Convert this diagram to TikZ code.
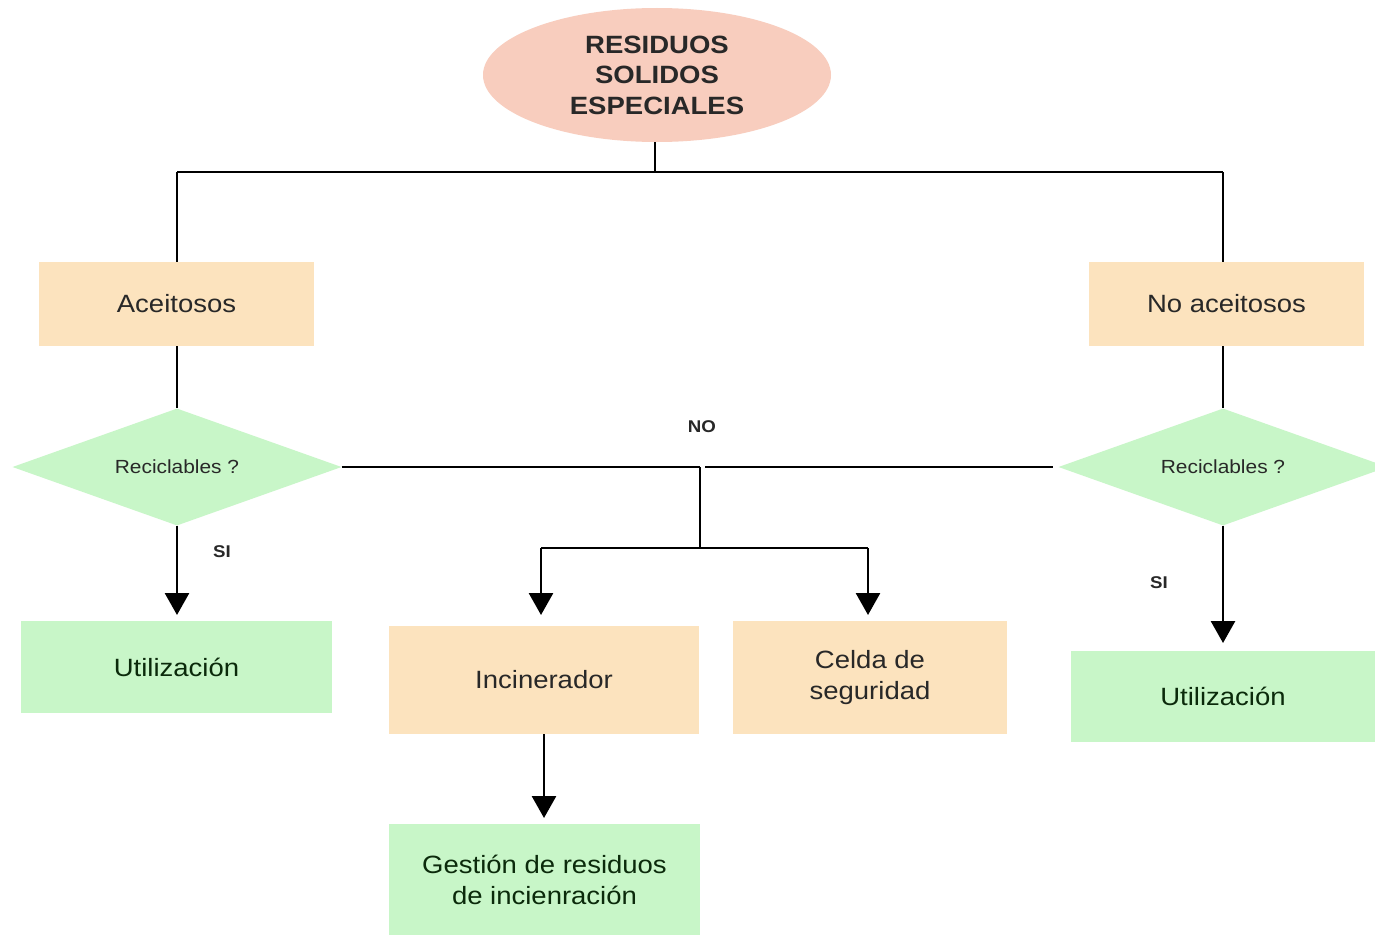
\documentclass[tikz,border=0pt]{standalone}
\usepackage{fontspec}
\setmainfont{Liberation Sans}[FakeStretch=1.1]
\usetikzlibrary{arrows.meta,shapes.geometric}
\definecolor{salmon}{RGB}{248,205,190}
\definecolor{peach}{RGB}{252,227,190}
\definecolor{mint}{RGB}{200,246,200}
\definecolor{txt}{RGB}{40,40,40}
\tikzset{
  conn/.style={line width=2.8pt, draw=black},
  arr/.style={conn, -{Triangle[width=24pt,length=22pt]}},
  peachbox/.style={rectangle, fill=peach, draw=none, text=txt, align=center, font=\fontsize{25}{31}\selectfont},
  greenbox/.style={rectangle, fill=mint, draw=none, text=txt!70!green!40!black, align=center, font=\fontsize{25}{31}\selectfont},
  decision/.style={diamond, fill=mint, draw=none, text=txt, aspect=2.8, inner sep=0pt, minimum width=329pt, minimum height=117pt, font=\fontsize{19}{23}\selectfont},
  lbl/.style={font=\bfseries\fontsize{17}{20}\selectfont, text=txt}
}
\begin{document}
\begin{tikzpicture}[x=1pt,y=-1pt]
\useasboundingbox (0,0) rectangle (1375,934);
\fill[white] (0,0) rectangle (1375,934);

\node[ellipse, fill=salmon, draw=none, minimum width=348pt, minimum height=134pt, inner sep=0pt, align=center, text=txt, font=\bfseries\fontsize{25}{30.5}\selectfont] (root) at (657,75) {RESIDUOS\\SOLIDOS\\ESPECIALES};

\node[peachbox, minimum width=275pt, minimum height=84pt] (ac) at (176.5,304) {Aceitosos};
\node[peachbox, minimum width=275pt, minimum height=84pt] (nac) at (1226.5,304) {No aceitosos};

\node[decision] (d1) at (177,467) {Reciclables ?};
\node[decision] (d2) at (1223,467) {Reciclables ?};

\node[greenbox, minimum width=311pt, minimum height=92pt] (u1) at (176.5,667) {Utilización};
\node[greenbox, minimum width=304pt, minimum height=91pt] (u2) at (1223,696.5) {Utilización};
\node[peachbox, minimum width=310pt, minimum height=108pt] (inc) at (544,680) {Incinerador};
\node[peachbox, minimum width=274pt, minimum height=113pt] (cel) at (870,677.5) {Celda de\\seguridad};
\node[greenbox, minimum width=311pt, minimum height=112pt] (ges) at (544.5,880) {Gestión de residuos\\de incienración};

% coordinates
\coordinate (j0) at (655,172);
\coordinate (jl) at (177,172);
\coordinate (jr) at (1223,172);
\coordinate (m1) at (700,467);
\coordinate (m1b) at (705,467);
\coordinate (m2) at (700,548);
\coordinate (bl) at (541,548);
\coordinate (br) at (868,548);

\draw[conn] (root.south -| j0) -- (j0);
\draw[conn] (jl) -- (jr);
\draw[conn] (jl) -- (ac.north -| jl);
\draw[conn] (jr) -- (nac.north -| jr);
\draw[conn] (ac.south -| d1.north) -- (d1.north);
\draw[conn] (nac.south -| d2.north) -- (d2.north);

\draw[conn] (d1.east) -- (m1);
\draw[conn] (m1b) -- ([xshift=-5pt]d2.west);
\draw[conn] (m1) -- (m2);
\draw[conn] (bl) -- (br);
\draw[arr] (bl) -- (541,615);
\draw[arr] (br) -- (868,615);

\draw[arr] (d1.south) -- (177,615);
\draw[arr] (d2.south) -- (1223,643);
\draw[arr] (inc.south) -- (544,818);

\node[lbl] (no) at (702,427) {NO};
\node[lbl] (si1) at (222,552) {SI};
\node[lbl] (si2) at (1159,583) {SI};
\end{tikzpicture}
\end{document}
